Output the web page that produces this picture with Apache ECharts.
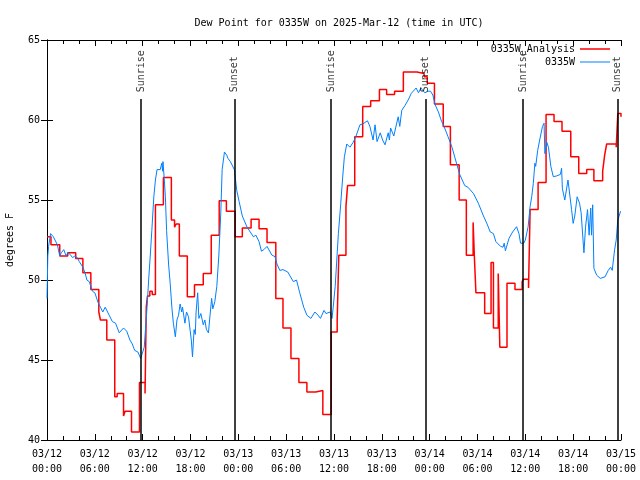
<!DOCTYPE html>
<html>
<head>
<meta charset="utf-8">
<script src="https://cdn.jsdelivr.net/npm/echarts@6/dist/echarts.min.js"></script>
<style>html,body{margin:0;padding:0;background:#fff;}#c{width:640px;height:480px;}</style>
</head>
<body>
<div id="c"></div>
<script>
// Hours since 2025-03-12 00:00 UTC
const analysisHours = [0.0,0.5,1.6,2.6,3.6,4.5,5.5,6.5,6.7,7.5,8.5,8.8,9.6,9.8,10.6,11.6,12.3,12.45,12.6,12.9,13.2,13.6,14.6,15.6,16.0,16.2,16.6,17.6,18.5,19.6,20.6,21.6,22.5,23.6,24.5,25.6,26.6,27.6,28.7,29.6,30.6,31.6,32.6,33.7,34.6,35.65,36.4,36.6,37.5,37.7,38.6,39.6,40.6,41.7,42.6,43.6,44.7,46.4,47.3,47.7,48.6,49.7,50.6,51.7,52.6,53.45,53.6,53.8,54.9,55.7,56.0,56.6,56.8,57.7,58.7,59.6,59.75,60.4,60.6,61.6,62.6,63.6,64.6,65.7,66.7,67.7,68.6,69.7,69.95,70.2,71.4,71.6,72.0];
const analysisValues = [52.7,52.2,51.5,51.7,51.35,50.45,49.4,48.0,47.5,46.25,42.7,42.9,41.5,41.8,40.5,43.6,42.9,48.3,49.0,49.3,49.1,54.7,56.4,53.75,53.3,53.5,51.5,48.95,49.7,50.4,52.8,54.95,54.3,52.7,53.25,53.8,53.2,52.35,48.85,47.0,45.1,43.6,43.0,43.1,41.6,46.75,47.5,51.55,54.6,55.9,58.95,60.85,61.2,61.9,61.6,61.8,63.0,62.9,62.7,62.3,61.0,59.6,57.2,55.0,51.55,53.6,51.55,49.2,47.9,51.1,47.0,50.4,45.8,49.8,49.4,49.9,50.05,49.5,54.4,56.1,60.35,59.9,59.3,57.7,56.65,56.9,56.2,56.8,57.8,58.5,58.3,60.4,60.2];

const obsHours = [0.0,0.1,0.2,0.45,0.6,0.8,1.0,1.3,1.6,1.8,2.1,2.4,2.6,2.9,3.2,3.5,3.8,4.05,4.5,4.8,5.0,5.3,5.7,6.0,6.4,6.7,7.0,7.3,7.8,8.2,8.6,9.06,9.3,9.6,10.0,10.4,10.7,11.0,11.4,11.75,12.0,12.2,12.35,12.55,12.75,12.95,13.15,13.4,13.6,13.8,14.0,14.2,14.4,14.5,14.55,14.7,14.85,15.0,15.25,15.45,15.66,15.85,16.1,16.3,16.5,16.7,16.9,17.0,17.3,17.5,17.75,17.95,18.1,18.25,18.45,18.6,18.7,18.9,19.05,19.3,19.6,19.8,20.0,20.25,20.45,20.65,20.8,21.05,21.3,21.55,21.8,21.97,22.26,22.55,22.7,23.0,23.5,23.8,24.1,24.5,25.1,25.5,25.9,26.2,26.6,26.9,27.2,27.6,28.2,28.6,28.85,29.2,29.6,30.2,30.9,31.3,31.7,32.2,32.6,33.1,33.6,34.0,34.3,34.75,35.0,35.5,35.75,35.9,36.0,36.15,36.35,36.55,36.85,37.1,37.3,37.6,38.0,38.4,38.7,39.25,39.6,40.2,40.5,40.9,41.15,41.4,41.8,42.1,42.4,42.8,42.95,43.1,43.5,44.05,44.25,44.5,44.9,45.3,45.7,46.3,46.6,46.9,47.4,47.8,48.1,48.4,48.7,49.1,49.5,49.8,50.3,50.8,51.25,51.8,52.4,52.8,53.0,53.5,54.1,54.7,55.2,55.6,56.0,56.3,56.9,57.2,57.35,57.5,57.95,58.4,58.9,59.2,59.4,59.6,59.8,60.0,60.35,60.6,60.8,61.0,61.2,61.3,61.55,61.8,62.15,62.35,62.45,62.7,62.9,63.2,63.5,63.9,64.4,64.55,64.65,64.95,65.35,65.8,66.0,66.2,66.5,66.8,67.0,67.35,67.55,67.8,68.0,68.2,68.3,68.45,68.6,68.95,69.4,69.6,70.0,70.4,70.7,70.9,71.2,71.4,71.6,71.95];
const obsValues = [48.85,51.5,52.1,52.9,52.9,52.7,52.5,52.2,51.5,51.7,51.9,51.5,51.7,51.6,51.4,51.5,51.4,51.15,50.8,50.4,50.0,49.9,49.3,49.2,48.6,48.3,48.0,48.3,47.8,47.4,47.3,46.7,46.65,47.0,46.8,46.25,46.0,45.6,45.5,45.1,45.2,45.8,46.9,48.3,50.0,51.5,53.1,55.2,56.25,56.9,57.0,56.9,57.3,56.8,57.4,56.35,55.2,53.1,51.0,49.8,48.3,47.3,46.45,47.5,47.8,48.5,48.0,48.3,47.3,48.0,47.7,47.6,46.25,45.2,46.9,46.6,48.0,49.2,47.6,47.9,47.2,47.5,46.9,46.7,47.8,48.85,48.2,48.65,49.6,51.5,54.2,56.9,58.0,57.8,57.6,57.4,56.9,55.6,54.9,54.0,53.3,53.0,52.7,52.8,52.4,51.8,51.9,52.1,51.56,51.46,51.0,50.6,50.65,50.5,49.9,50.0,49.2,48.3,47.8,47.6,48.0,47.8,47.6,48.1,47.9,48.0,47.6,48.3,48.3,49.6,51.25,52.9,54.8,56.5,57.7,58.5,58.3,58.6,58.9,59.7,59.75,59.95,59.6,58.75,59.7,58.65,59.2,58.75,58.45,59.2,58.75,59.5,59.0,60.2,59.6,60.6,60.9,61.25,61.67,62.0,61.7,62.0,61.7,61.8,61.8,61.56,60.94,60.5,59.9,59.6,58.96,58.3,57.5,56.56,55.9,55.8,55.9,55.4,54.8,54.06,53.5,53.0,52.9,52.4,52.1,52.05,52.3,51.83,52.6,53.0,53.33,52.9,52.3,52.4,52.3,52.5,53.33,54.6,55.2,56.04,57.3,57.1,58.1,58.75,59.6,59.8,57.9,58.6,58.3,57.1,56.46,56.5,56.6,56.98,55.7,55.0,56.25,54.4,53.54,54.0,55.2,54.8,54.2,51.7,53.3,54.4,52.8,54.5,52.8,54.7,50.73,50.3,50.1,50.0,50.2,50.6,50.8,50.6,51.9,52.5,53.75,54.3];

const sunHours = [11.78, 23.5, 35.63, 47.5, 59.7, 71.55];
const sunLabels = ['Sunrise', 'Sunset', 'Sunrise', 'Sunset', 'Sunrise', 'Sunset'];

const yTicks = {min: 40, max: 65, interval: 5};
const seriesNames = ['0335W_Analysis', '0335W'];

const FONT = 'DejaVu Sans Mono';
const pair = (xs, ys) => xs.map((x, i) => [x, ys[i]]);
const fmtX = (v) => {
  const day = 12 + Math.floor(v / 24);
  const hr = v % 24;
  return '03/' + day + '\n' + (hr < 10 ? '0' : '') + hr + ':00';
};

const chart = echarts.init(document.getElementById('c'), null, {renderer: 'canvas'});
const axisCommon = {
  axisLine: {show: true, lineStyle: {color: '#000', width: 1}},
  axisTick: {show: true, inside: true, length: 6, lineStyle: {color: '#000'}},
  splitLine: {show: false}
};
chart.setOption({
  animation: false,
  backgroundColor: '#fff',
  title: {
    text: 'Dew Point for 0335W on 2025-Mar-12 (time in UTC)',
    left: 334, top: 13, textAlign: 'center',
    textStyle: {fontFamily: FONT, fontSize: 10, fontWeight: 'normal', color: '#000'}
  },
  legend: [
    {data: [seriesNames[0]], right: 30, top: 44, padding: 0, align: 'right', icon: 'rect',
     itemWidth: 30, itemHeight: 1.5, textStyle: {fontFamily: FONT, fontSize: 10, color: '#000'}},
    {data: [seriesNames[1]], right: 30, top: 57, padding: 0, align: 'right', icon: 'rect',
     itemWidth: 30, itemHeight: 1, textStyle: {fontFamily: FONT, fontSize: 10, color: '#000'}}
  ],
  grid: {left: 47, right: 19, top: 40, bottom: 40, containLabel: false, outerBoundsMode: 'none'},
  xAxis: [
    Object.assign({}, axisCommon, {
      type: 'value', min: 0, max: 72, interval: 6, position: 'bottom',
      minorTick: {show: true, splitNumber: 3, length: 4, lineStyle: {color: '#000'}},
      minorSplitLine: {show: false},
      axisLabel: {formatter: fmtX, fontFamily: FONT, fontSize: 10, color: '#000', lineHeight: 15, margin: 7}
    }),
    Object.assign({}, axisCommon, {
      type: 'value', min: 0, max: 72, interval: 6, position: 'top',
      minorTick: {show: true, splitNumber: 3, length: 4, lineStyle: {color: '#000'}},
      minorSplitLine: {show: false},
      axisLabel: {show: false}
    })
  ],
  yAxis: [
    Object.assign({}, axisCommon, {
      type: 'value', min: yTicks.min, max: yTicks.max, interval: yTicks.interval, position: 'left',
      name: 'degrees F', nameLocation: 'middle', nameGap: 32, nameRotate: 90,
      nameTextStyle: {fontFamily: FONT, fontSize: 10, color: '#000'},
      axisLabel: {fontFamily: FONT, fontSize: 10, color: '#000', margin: 7}
    }),
    Object.assign({}, axisCommon, {
      type: 'value', min: yTicks.min, max: yTicks.max, interval: yTicks.interval, position: 'right',
      axisLabel: {show: false}
    })
  ],
  series: [
    {
      name: seriesNames[0], type: 'line', step: 'end', showSymbol: false, symbol: 'none',
      data: pair(analysisHours, analysisValues),
      lineStyle: {color: '#ff0000', width: 1.5}, itemStyle: {color: '#ff0000'}, z: 3
    },
    {
      name: seriesNames[1], type: 'line', showSymbol: false, symbol: 'none',
      data: pair(obsHours, obsValues),
      lineStyle: {color: '#0080ff', width: 1}, itemStyle: {color: '#0080ff'}, z: 4
    },
    {
      name: 'sun', type: 'scatter', symbolSize: 1, itemStyle: {color: 'rgba(0,0,0,0)'},
      silent: true, z: 5,
      data: sunHours.map((h, i) => ({value: [h, 61.73], name: sunLabels[i]})),
      label: {
        show: true, position: 'inside', formatter: (p) => p.name, rotate: 90,
        align: 'left', verticalAlign: 'middle',
        fontFamily: FONT, fontSize: 10, color: '#000'
      },
      markLine: {
        silent: true, symbol: 'none', animation: false,
        label: {show: false},
        lineStyle: {color: '#000', width: 1.5, type: 'solid'},
        data: sunHours.map((h) => [{coord: [h, 61.31]}, {coord: [h, 40]}])
      }
    }
  ]
});
</script>
</body>
</html>
